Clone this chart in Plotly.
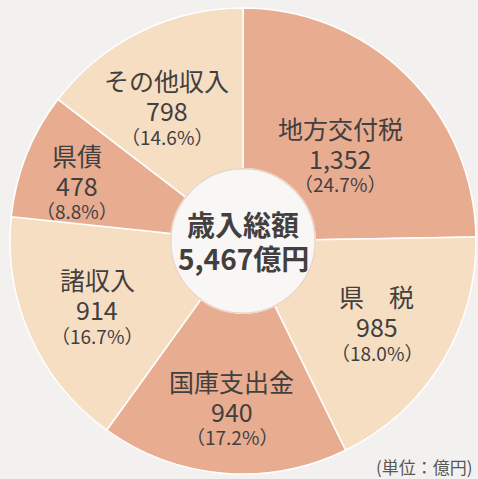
import math
import plotly.graph_objects as go

# ---- data ----
labels = ["地方交付税", "県　税", "国庫支出金", "諸収入", "県債", "その他収入"]
values = [1352, 985, 940, 914, 478, 798]
pct_labels = ["24.7", "18.0", "17.2", "16.7", "8.8", "14.6"]
total_title = "歳入総額"
total_label = "5,467億円"
unit_label = "(単位：億円)"

# ---- style ----
DARK = "#E8AC91"
LIGHT = "#F6DEC3"
colors = [DARK, LIGHT, DARK, LIGHT, DARK, LIGHT]
BG = "#F3F1EF"
HOLE = "#F8F7F5"
TXT = "#433f3f"
FONT = "Noto Sans CJK JP"

W, H = 478, 479
CX, CY, R = 243, 241, 233
HOLE_FRAC = 0.31
# label placement (fraction of radius, angle nudge in degrees)
label_r = [0.55, 0.68, 0.73, 0.69, 0.75, 0.65]
label_da = [5, 1, -1, -1, -3, -4]

fig = go.Figure(go.Pie(
    labels=labels, values=values, sort=False, direction="clockwise", rotation=0,
    hole=HOLE_FRAC, textinfo="none", hoverinfo="label+value+percent",
    marker=dict(colors=colors, line=dict(color="#FFFFFF", width=1.5)),
    domain=dict(x=[(CX - R) / W, (CX + R) / W], y=[1 - (CY + R) / H, 1 - (CY - R) / H]),
    showlegend=False,
))

# hole fill
hr = R * HOLE_FRAC
fig.add_shape(type="circle", xref="paper", yref="paper",
              x0=(CX - hr) / W, x1=(CX + hr) / W, y0=1 - (CY + hr) / H, y1=1 - (CY - hr) / H,
              fillcolor=HOLE, line=dict(color="#EBD3C6", width=1.5), layer="above")


def txt(xp, yp, s, size, dy=0, bold=False, color=TXT):
    fig.add_annotation(
        x=xp / W, y=1 - yp / H, xref="paper", yref="paper", showarrow=False,
        xanchor="center", yanchor="middle", align="center", yshift=-dy, borderpad=0,
        text=f"<b>{s}</b>" if bold else s,
        font=dict(family=FONT, size=size, color=color),
    )


tot = sum(values)
cum = 0
for i, (lab, v, p) in enumerate(zip(labels, values, pct_labels)):
    mid = (cum + v / 2) / tot * 360 + label_da[i]
    cum += v
    rr = R * label_r[i]
    xp = CX + rr * math.sin(math.radians(mid))
    yp = CY - rr * math.cos(math.radians(mid))
    txt(xp, yp, lab, 25, dy=-30)
    txt(xp, yp, f"{v:,}", 25, dy=0)
    txt(xp, yp, f"（{p}%）", 19, dy=26)

txt(CX, CY, total_title, 28, dy=-17, bold=True)
txt(CX, CY, total_label, 28, dy=17, bold=True)

fig.add_annotation(
    x=474 / W, y=1 - 466 / H, xref="paper", yref="paper", showarrow=False,
    xanchor="right", yanchor="middle", text=unit_label, borderpad=0,
    font=dict(family=FONT, size=17, color="#5a5656"),
)

fig.update_layout(width=W, height=H, margin=dict(l=0, r=0, t=0, b=0),
                  paper_bgcolor=BG, plot_bgcolor=BG)
fig.write_html("out.html", config={"displayModeBar": False},
               post_script="document.body.style.margin='0';document.body.style.overflow='hidden';")
